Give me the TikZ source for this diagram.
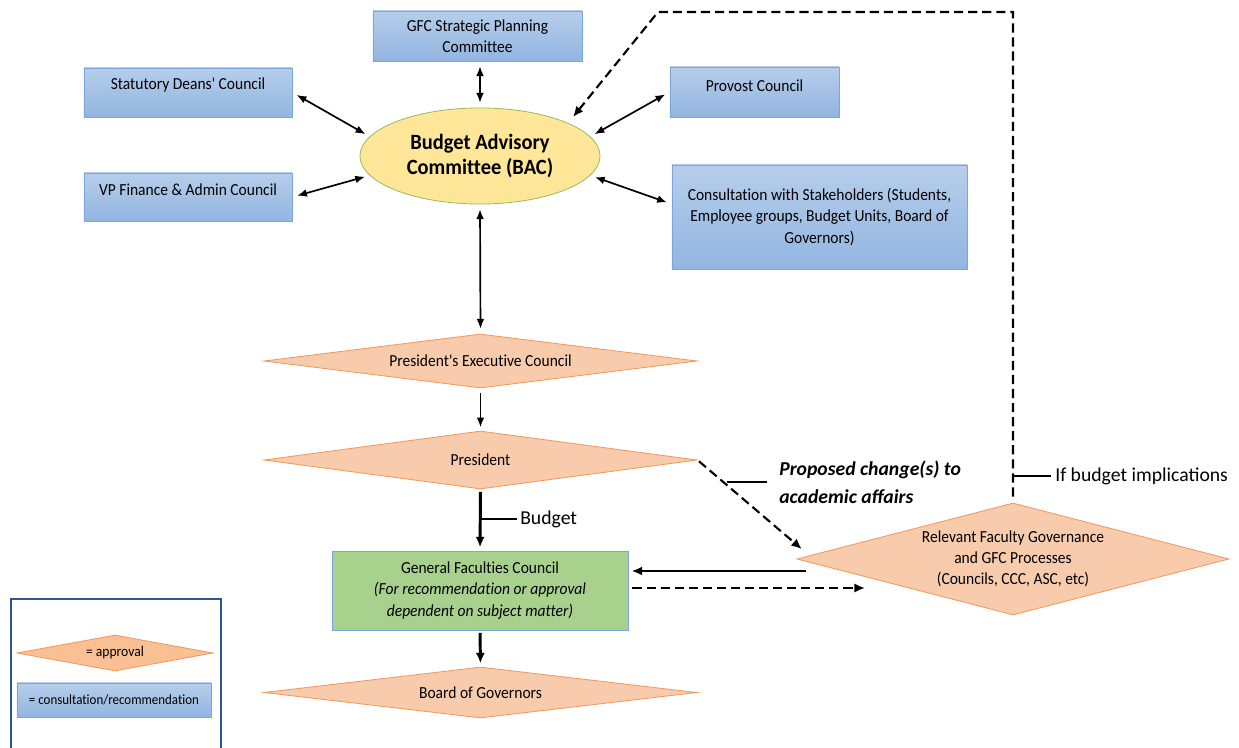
\documentclass[tikz,border=0pt]{standalone}
\usepackage{fontspec}
\setmainfont{Carlito}
\newfontfamily\condfont[FakeStretch=0.92,Ligatures=NoCommon]{Carlito}
\newfontfamily\bacfont[FakeStretch=0.94,Ligatures=NoCommon]{Carlito}
\usetikzlibrary{shapes.geometric,arrows.meta,calc}

\definecolor{boxtop}{HTML}{B6CEEB}
\definecolor{boxbot}{HTML}{92B5E0}
\definecolor{boxline}{HTML}{7BA5DB}
\definecolor{apprfill}{HTML}{F8CBAD}
\definecolor{apprline}{HTML}{F09A5E}
\definecolor{bacfill}{HTML}{FFE699}
\definecolor{bacline}{HTML}{9DBB61}
\definecolor{gfcfill}{HTML}{A9D18E}
\definecolor{legline}{HTML}{2F5597}

\begin{document}
\begin{tikzpicture}[x=0.025cm,y=-0.025cm,
    consult/.style={draw=boxline, line width=0.6pt, top color=boxtop, bottom color=boxbot, inner sep=0pt},
    approval/.style={diamond, draw=apprline, line width=0.6pt, fill=apprfill, inner sep=0pt, align=center, font=\condfont\fontsize{12}{15}\selectfont},
    boxtext/.style={inner sep=0pt, align=center, font=\condfont\fontsize{12}{15}\selectfont},
    lbl/.style={inner sep=0pt, align=left, font=\fontsize{14}{17}\selectfont},
    link/.style={{Latex[length=7pt,width=5.5pt]}-{Latex[length=7pt,width=5.5pt]}, line width=1.2pt, shorten <=0.12cm, shorten >=0.12cm},
    flow/.style={-{Latex[length=7pt,width=5.5pt]}, line width=1.2pt, shorten <=0.12cm, shorten >=0.08cm},
    flowthick/.style={-{Latex[length=7.5pt,width=6.5pt]}, line width=2.1pt, shorten <=0.06cm, shorten >=0.08cm},
    dasharrow/.style={-{Latex[length=7.5pt,width=6.5pt]}, line width=1.5pt, dash pattern=on 6.5pt off 3.5pt}]

    \useasboundingbox (0,0) rectangle (1239,748);

    % consultation boxes
    \node[consult, minimum width=5.225cm, minimum height=1.25cm] (sp) at (477.5,36) {};
    \node[boxtext] (sptxt) at (sp) {GFC Strategic Planning\\Committee};
    \node[consult, minimum width=5.2cm, minimum height=1.225cm] (deans) at (188,92.5) {};
    \node[boxtext] (deanstxt) at (188,85) {Statutory Deans' Council};
    \node[consult, minimum width=5.2cm, minimum height=1.2cm] (vp) at (188,197) {};
    \node[boxtext] (vptxt) at (188,190) {VP Finance \& Admin Council};
    \node[consult, minimum width=4.225cm, minimum height=1.25cm] (provost) at (754.5,92) {};
    \node[boxtext] (provosttxt) at (754.5,86) {Provost Council};
    \node[consult, minimum width=7.375cm, minimum height=2.6cm] (stake) at (819.5,217) {};
    \node[boxtext] (staketxt) at (stake) {Consultation with Stakeholders (Students,\\Employee groups, Budget Units, Board of\\Governors)};

    \node[ellipse, draw=bacline, line width=0.6pt, fill=bacfill, minimum width=6cm, minimum height=2.4cm, inner sep=0pt, align=center,
          font=\bacfont\fontsize{15.5}{17.5}\selectfont\bfseries] (bac) at (480,156) {Budget Advisory\\Committee (BAC)};

    % approval chain
    \node[approval, aspect=8, minimum width=10.825cm, minimum height=1.35cm] (pec) at (480.5,361) {President's Executive Council};
    \node[approval, aspect=7.5, minimum width=10.825cm, minimum height=1.45cm] (pres) at (480.5,460) {President};
    \node[draw=boxline, line width=0.6pt, fill=gfcfill, minimum width=7.4cm, minimum height=1.975cm] (gfc) at (480,590.5) {};
    \node[boxtext] (gfctxt) at (gfc) {General Faculties Council\\\itshape (For recommendation or approval\\\itshape dependent on subject matter)};
    \node[approval, aspect=8.5, minimum width=10.825cm, minimum height=1.275cm] (bog) at (480.5,692.5) {Board of Governors};
    \node[approval, aspect=3.86, minimum width=10.8cm, minimum height=2.8cm] (relevant) at (1013,559) {Relevant Faculty Governance\\and GFC Processes\\(Councils, CCC, ASC, etc)};

    % connectors
    \draw[link] (sp.south -| bac.north) -- (bac.north);
    \draw[link] (deans.east) -- (bac.170);
    \draw[link] (vp.east) -- (bac.190);
    \draw[link] (provost.west) -- (bac.10);
    \draw[link] (stake.175) -- (bac.350);
    \draw[link] (bac.south) -- (pec.north);
    \draw[flow] (pec.south) -- (pres.north);
    \draw[flowthick] (pres.south) -- (gfc.north);
    \draw[flowthick] (gfc.south) -- (bog.north);

    \coordinate (relin) at (808,571);
    \coordinate (relout) at (865,588);
    \coordinate (fbtop) at (658,12);
    \coordinate (fbend) at (573,117);
    \draw[flowthick] (relin) -- (relin -| gfc.east);
    \draw[dasharrow, shorten <=0.1cm] (relout -| gfc.east) -- (relout);
    \draw[dasharrow, shorten <=0.05cm, shorten >=0.25cm] (pres.east) -- ($(relevant.west)!0.06!(relevant.north)$);
    \draw[dasharrow, shorten <=0.15cm] (relevant.north) |- (fbtop) -- (fbend);

    % labels
    \node[lbl, anchor=west] (budgettxt) at (520,519) {Budget};
    \draw[line width=1.4pt] (budgettxt.west) ++(-0.08cm,0) -- (budgettxt.west -| pres.south);
    \node[lbl, anchor=west, font=\fontsize{14}{20}\selectfont\bfseries\itshape] (proptxt) at (779,482) {Proposed change(s) to\\academic affairs};
    \draw[line width=1pt] (proptxt.west) ++(-0.3cm,0) -- ++(-1cm,0);
    \node[lbl, anchor=west] (iftxt) at (1055,476) {If budget implications};
    \draw[line width=1pt] (iftxt.west) ++(-0.1cm,0) -- (iftxt.west -| relevant.north);

    % legend
    \draw[legline, line width=1pt] (11,748) |- (221,599) -- (221,748);
    \node[approval, aspect=5.4, fill=apprfill!85!orange, minimum width=4.9cm, minimum height=0.9cm, font=\condfont\fontsize{10.5}{12}\selectfont] (legappr) at (115,653) {= approval};
    \node[consult, minimum width=4.85cm, minimum height=0.85cm, font=\condfont\fontsize{10}{12}\selectfont] (legcons) at (114,700) {= consultation/recommendation};
\end{tikzpicture}
\end{document}
